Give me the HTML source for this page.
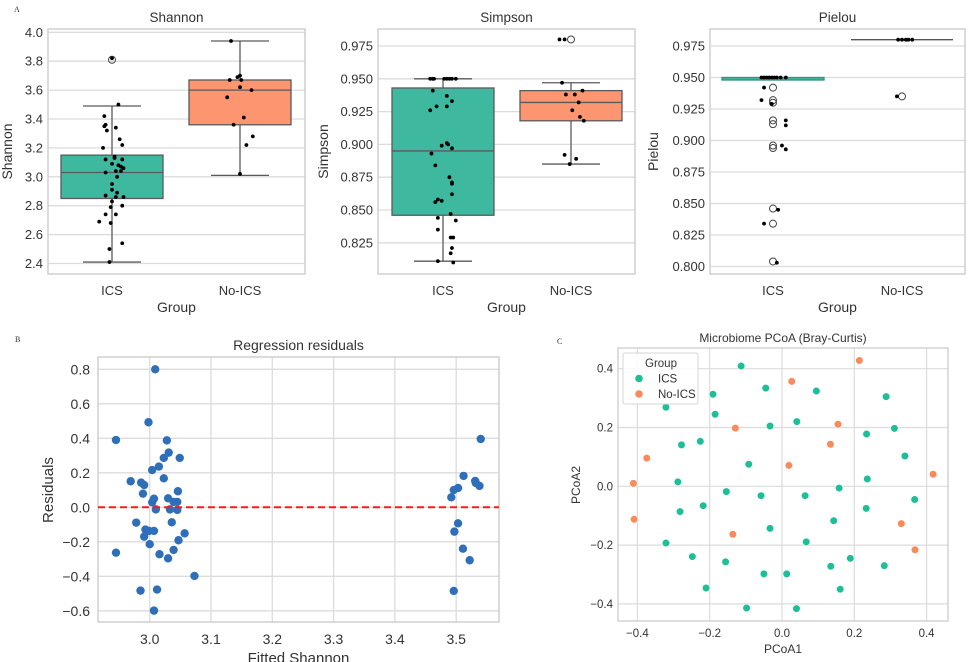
<!DOCTYPE html>
<html><head><meta charset="utf-8"><style>
body{margin:0;background:#fff}
svg{display:block;font-family:"Liberation Sans",sans-serif}
</style></head><body>
<svg id="fig" width="969" height="662" viewBox="0 0 969 662"></svg>
<script>
// ---------- DATA ----------
const groups = ["ICS","No-ICS"];
const shannonICS = [[2.41,-0.02],[2.50,-0.02],[2.54,0.08],[2.69,-0.1],[2.68,-0.01],[2.74,0.03],[2.74,-0.05],[2.80,0.08],[2.79,-0.01],[2.83,0],[2.87,-0.05],[2.86,0.03],[2.86,0.09],[2.89,0.04],[2.91,0],[2.95,0],[3.00,0.04],[3.03,-0.05],[3.04,0.03],[3.04,0.07],[3.09,0],[3.08,0.05],[3.07,0.07],[3.06,0.09],[3.12,-0.05],[3.14,0.02],[3.13,0.02],[3.12,0.08],[3.20,-0.07],[3.22,0.08],[3.26,0.06],[3.32,-0.04],[3.34,0.03],[3.35,-0.06],[3.36,-0.05],[3.42,-0.06],[3.50,0.05],[3.82,0]];
const shannonNo = [[3.94,-0.07],[3.02,0],[3.67,-0.08],[3.69,-0.02],[3.70,0],[3.67,0.01],[3.62,0],[3.60,0.09],[3.55,-0.1],[3.41,0.03],[3.36,-0.05],[3.28,0.1],[3.22,0.05]];
const shannonBox = [{q1:2.85,med:3.03,q3:3.15,lo:2.41,hi:3.49,out:[3.81]},{q1:3.36,med:3.60,q3:3.67,lo:3.01,hi:3.94,out:[]}];
const shannonTicks = [2.4,2.6,2.8,3.0,3.2,3.4,3.6,3.8,4.0];
const simpsonICS = [[0.811,-0.04],[0.810,0.08],[0.817,0.06],[0.821,0.07],[0.829,0.06],[0.829,0.08],[0.835,-0.04],[0.844,-0.04],[0.842,0.1],[0.847,0.06],[0.856,-0.06],[0.858,-0.04],[0.857,-0.01],[0.862,0.07],[0.871,0.07],[0.870,0.07],[0.875,0.05],[0.884,-0.06],[0.893,-0.09],[0.897,0.07],[0.899,-0.01],[0.901,0.03],[0.900,0.04],[0.926,-0.1],[0.929,-0.05],[0.929,0.03],[0.933,0.07],[0.937,0.03],[0.941,-0.08],[0.950,-0.1],[0.950,-0.08],[0.950,-0.07],[0.950,0.01],[0.950,0.03],[0.950,0.05],[0.950,0.07],[0.950,0.1]];
const simpsonNo = [[0.980,-0.09],[0.980,-0.05],[0.947,-0.07],[0.938,-0.04],[0.938,0.03],[0.941,0.09],[0.932,0.06],[0.926,0.01],[0.921,0.07],[0.918,0.1],[0.892,-0.05],[0.889,0.04],[0.885,-0.01]];
const simpsonBox = [{q1:0.846,med:0.895,q3:0.943,lo:0.811,hi:0.950,out:[]},{q1:0.918,med:0.932,q3:0.941,lo:0.885,hi:0.947,out:[0.980]}];
const simpsonTicks = [0.825,0.850,0.875,0.900,0.925,0.950,0.975];
const pielouICS = [[0.950,-0.09],[0.950,-0.07],[0.950,-0.05],[0.950,-0.03],[0.950,-0.01],[0.950,0.01],[0.950,0.03],[0.950,0.06],[0.950,0.1],[0.942,-0.07],[0.932,-0.09],[0.929,-0.01],[0.916,0.1],[0.912,0.1],[0.896,0.07],[0.893,0.1],[0.845,0.04],[0.834,-0.07],[0.803,0.03]];
const pielouNo = [[0.980,-0.03],[0.980,0],[0.980,0.03],[0.980,0.05],[0.980,0.08],[0.935,-0.04]];
const pielouBox = [{q1:0.948,med:0.949,q3:0.950,lo:0.948,hi:0.950,out:[0.942,0.932,0.930,0.916,0.913,0.896,0.894,0.846,0.834,0.804]},{q1:0.980,med:0.980,q3:0.980,lo:0.980,hi:0.980,out:[0.935]}];
const pielouTicks = [0.800,0.825,0.850,0.875,0.900,0.925,0.950,0.975];
const residFitted = [3.009,2.998,2.945,3.028,3.031,3.049,3.023,3.015,3.004,3.023,2.969,2.986,2.991,2.989,3.046,3.007,3.030,3.004,3.039,3.045,3.010,3.033,3.045,2.978,3.036,2.993,2.999,3.007,3.057,2.991,3.047,2.945,3.000,3.016,3.039,3.030,3.073,2.985,3.012,3.007,3.540,3.512,3.531,3.532,3.538,3.503,3.496,3.492,3.503,3.497,3.511,3.522,3.496];
const residValues = [0.80,0.493,0.39,0.388,0.317,0.286,0.286,0.236,0.216,0.168,0.151,0.143,0.129,0.079,0.093,0.05,0.052,0.029,0.031,0.031,-0.012,-0.012,-0.015,-0.089,-0.087,-0.129,-0.137,-0.137,-0.151,-0.170,-0.191,-0.263,-0.214,-0.272,-0.247,-0.296,-0.398,-0.483,-0.477,-0.599,0.396,0.182,0.153,0.141,0.124,0.112,0.100,0.058,-0.093,-0.141,-0.240,-0.307,-0.485];
const residXTicks = [3.0,3.1,3.2,3.3,3.4,3.5];
const residYTicks = [-0.6,-0.4,-0.2,0.0,0.2,0.4,0.6,0.8];
const pcoaICS1 = [-0.113,-0.045,-0.191,0.095,0.288,-0.321,-0.185,-0.033,0.041,0.311,0.234,-0.278,-0.226,0.340,-0.092,0.236,-0.288,-0.154,-0.058,0.064,0.158,0.367,-0.282,-0.218,0.233,0.143,-0.033,-0.321,0.067,-0.248,-0.156,0.189,-0.050,0.013,0.135,0.283,-0.210,0.161,-0.098,0.040];
const pcoaICS2 = [0.409,0.334,0.313,0.324,0.305,0.269,0.245,0.205,0.220,0.197,0.178,0.141,0.153,0.103,0.075,0.025,0.015,-0.018,-0.032,-0.032,-0.006,-0.045,-0.086,-0.066,-0.075,-0.117,-0.143,-0.193,-0.189,-0.239,-0.257,-0.245,-0.298,-0.298,-0.272,-0.270,-0.346,-0.350,-0.414,-0.416];
const pcoaNo1 = [0.214,0.027,-0.129,0.155,0.134,-0.374,0.019,0.418,-0.411,-0.409,-0.136,0.330,0.368];
const pcoaNo2 = [0.428,0.357,0.198,0.211,0.143,0.096,0.071,0.041,0.010,-0.112,-0.163,-0.127,-0.216];
const pcoaTicks = [-0.4,-0.2,0.0,0.2,0.4];

// ---------- HELPERS ----------
const NS="http://www.w3.org/2000/svg";
const svg=document.getElementById('fig');
function mk(tag,at,parent){const e=document.createElementNS(NS,tag);for(const k in at)e.setAttribute(k,at[k]);(parent||svg).appendChild(e);return e;}
function txt(s,at,parent){const e=mk('text',at,parent);e.textContent=s;return e;}
const GRID="#dcdcdc", FRAME="#cfcfcf", TXT="#333";

function boxPanel(name,fx0,fx1,fy0,fy1,yRef,yRefPx,step,stepPx,ticks,dec,box,ptsA,ptsB,cx,ytitleX,title){
  const g=mk('g',{});
  
  
  const Y=v=>yRefPx+(yRef-v)/step*stepPx;
  const catW=128;
  const X=(i,j)=>cx[i]+j*catW;
  ticks.forEach(t=>{
    const l=mk('line',{x1:fx0,x2:fx1,y1:Y(t),y2:Y(t),stroke:GRID,'stroke-width':1.3},g);
    
    
    const tl=txt(t.toFixed(dec),{x:fx0-5,y:Y(t)+4.5,'text-anchor':'end','font-size':13,fill:TXT},g);
    
    
  });
  const fr=mk('rect',{x:fx0,y:fy0,width:fx1-fx0,height:fy1-fy0,fill:'none',stroke:FRAME,'stroke-width':1.5},g);
  
  
  const fills=['#3fb8a0','#fc9570'];
  box.forEach((b,i)=>{
    const c=cx[i];
    const thin=(Y(b.q1)-Y(b.q3))<4;
    const ec=thin&&i===0?'#3a8f7d':'#5a5a5a';
    const w1=mk('line',{x1:c,x2:c,y1:Y(b.hi),y2:Y(b.lo),stroke:'#5a5a5a','stroke-width':1.3},g);
    
    
    if(!thin){[b.lo,b.hi].forEach(v=>{
      const cp=mk('line',{x1:c-29,x2:c+29,y1:Y(v),y2:Y(v),stroke:'#5a5a5a','stroke-width':1.3},g);
      
      
    });}
    const h=Math.max(Y(b.q1)-Y(b.q3),0);
    const r=mk('rect',{x:c-51,y:Y(b.q3),width:102,height:h,fill:fills[i],stroke:ec,'stroke-width':1.3},g);
    
    
    if(!thin){
      const m=mk('line',{x1:c-51,x2:c+51,y1:Y(b.med),y2:Y(b.med),stroke:'#5a5a5a','stroke-width':1.3},g);
      
      
    } else if(i===1){
      const m=mk('line',{x1:c-51,x2:c+51,y1:Y(b.med),y2:Y(b.med),stroke:'#555','stroke-width':1.3},g);
      
      
    }
    b.out.forEach(v=>{
      const o=mk('circle',{cx:c,cy:Y(v),r:3.5,fill:'none',stroke:'#444','stroke-width':1},g);
      
      
    });
  });
  [ptsA,ptsB].forEach((pts,i)=>pts.forEach(p=>{
    const d=mk('circle',{cx:X(i,p[1]),cy:Y(p[0]),r:1.9,fill:'#000'},g);
    
    
  }));
  groups.forEach((gname,i)=>{
    const xl=txt(gname,{x:cx[i],y:295,'text-anchor':'middle','font-size':13,fill:TXT},g);
    
    
  });
  const xt=txt('Group',{x:(fx0+fx1)/2,y:312,'text-anchor':'middle','font-size':14,fill:TXT},g);
  
  
  const yt=txt(title,{x:ytitleX,y:(fy0+fy1)/2,'text-anchor':'middle','font-size':14,fill:TXT,transform:`rotate(-90 ${ytitleX} ${(fy0+fy1)/2})`},g);
  
  
  const tt=txt(title,{x:(fx0+fx1)/2,y:22,'text-anchor':'middle','font-size':13.5,fill:TXT},g);
  
  
}
boxPanel('shannon',48,305,29,274,4.0,32.3,0.2,28.9,shannonTicks,1,shannonBox,shannonICS,shannonNo,[112,240],12,'Shannon');
boxPanel('simpson',378,635,29,274,0.975,46,0.025,32.8,simpsonTicks,3,simpsonBox,simpsonICS,simpsonNo,[443,571],328,'Simpson');
boxPanel('pielou',710,965,29,274,0.975,46,0.025,31.5,pielouTicks,3,pielouBox,pielouICS,pielouNo,[773,902],658,'Pielou');

(function(){
  const g=mk('g',{});
  
  
  const fx0=98,fx1=499,fy0=357,fy1=622;
  const X=v=>149.7+(v-3.0)/0.1*61.3;
  const Y=v=>369.3+(0.8-v)/0.2*34.5;
  residYTicks.forEach(t=>{
    const l=mk('line',{x1:fx0,x2:fx1,y1:Y(t),y2:Y(t),stroke:GRID,'stroke-width':1.3},g);
    
    
    const s=(t<0?'\u2212':'')+Math.abs(t).toFixed(1);
    const tl=txt(s,{x:fx0-8,y:Y(t)+5,'text-anchor':'end','font-size':14,fill:TXT},g);
    
    
  });
  residXTicks.forEach(t=>{
    const l=mk('line',{x1:X(t),x2:X(t),y1:fy0,y2:fy1,stroke:GRID,'stroke-width':1.3},g);
    
    
    const tl=txt(t.toFixed(1),{x:X(t),y:644,'text-anchor':'middle','font-size':14,fill:TXT},g);
    
    
  });
  const fr=mk('rect',{x:fx0,y:fy0,width:fx1-fx0,height:fy1-fy0,fill:'none',stroke:FRAME,'stroke-width':1.5},g);
  
  
  residFitted.forEach((f,i)=>{
    const c=mk('circle',{cx:X(f),cy:Y(residValues[i]),r:4.2,fill:'#2f6fb9'},g);
    
    
  });
  const z=mk('line',{x1:fx0,x2:fx1,y1:Y(0),y2:Y(0),stroke:'#ff1a1a','stroke-width':2,'stroke-dasharray':'7,4'},g);
  
  
  const tt=txt('Regression residuals',{x:(fx0+fx1)/2,y:350,'text-anchor':'middle','font-size':14,fill:TXT},g);
  
  
  const xt=txt('Fitted Shannon',{x:(fx0+fx1)/2,y:663,'text-anchor':'middle','font-size':15,fill:TXT},g);
  
  
  const yt=txt('Residuals',{x:53,y:490,'text-anchor':'middle','font-size':15,fill:TXT,transform:'rotate(-90 53 490)'},g);
  
  
})();

(function(){
  const g=mk('g',{});
  
  
  const fx0=618,fx1=948,fy0=348,fy1=621;
  const X=v=>782+v/0.2*72.3;
  const Y=v=>486.3-v/0.2*58.8;
  pcoaTicks.forEach(t=>{
    const s=(t<0?'\u2212':'')+Math.abs(t).toFixed(1);
    const l=mk('line',{x1:fx0,x2:fx1,y1:Y(t),y2:Y(t),stroke:GRID,'stroke-width':1.2},g);
    
    
    const tl=txt(s,{x:fx0-5,y:Y(t)+4,'text-anchor':'end','font-size':11.5,fill:TXT},g);
    
    
    const v=mk('line',{x1:X(t),x2:X(t),y1:fy0,y2:fy1,stroke:GRID,'stroke-width':1.2},g);
    
    
    const xl=txt(s,{x:X(t),y:637,'text-anchor':'middle','font-size':11.5,fill:TXT},g);
    
    
  });
  const fr=mk('rect',{x:fx0,y:fy0,width:fx1-fx0,height:fy1-fy0,fill:'none',stroke:FRAME,'stroke-width':1.4},g);
  
  
  pcoaICS1.forEach((v,i)=>{
    const c=mk('circle',{cx:X(v),cy:Y(pcoaICS2[i]),r:3.8,fill:'#1dbf98',stroke:'#fff','stroke-width':0.6},g);
    
    
  });
  pcoaNo1.forEach((v,i)=>{
    const c=mk('circle',{cx:X(v),cy:Y(pcoaNo2[i]),r:3.8,fill:'#fb8a5a',stroke:'#fff','stroke-width':0.6},g);
    
    
  });
  const lg=mk('g',{},g);
  
  
  mk('rect',{x:623,y:353,width:75,height:51,fill:'#fff','fill-opacity':0.85,stroke:'#d6d6d6',rx:2},lg);
  txt('Group',{x:661,y:367,'text-anchor':'middle','font-size':11.5,fill:TXT},lg);
  const c1=mk('circle',{cx:639,cy:378.5,r:3.8,fill:'#1dbf98'},lg);
  
  
  const l1=txt('ICS',{x:658,y:382.5,'font-size':11.5,fill:TXT},lg);
  
  
  const c2=mk('circle',{cx:639,cy:394,r:3.8,fill:'#fb8a5a'},lg);
  
  
  const l2=txt('No-ICS',{x:658,y:398,'font-size':11.5,fill:TXT},lg);
  
  
  const tt=txt('Microbiome PCoA (Bray-Curtis)',{x:783,y:342,'text-anchor':'middle','font-size':12,fill:TXT},g);
  
  
  const xt=txt('PCoA1',{x:783,y:653,'text-anchor':'middle','font-size':12,fill:TXT},g);
  
  
  const yt=txt('PCoA2',{x:580,y:485,'text-anchor':'middle','font-size':12,fill:TXT,transform:'rotate(-90 580 485)'},g);
  
  
})();

const pa=txt('A',{x:14,y:12,'font-size':8,'font-family':'Liberation Serif,serif',fill:'#333'});


const pb=txt('B',{x:15,y:342,'font-size':8,'font-family':'Liberation Serif,serif',fill:'#333'});


const pc=txt('C',{x:557,y:344,'font-size':8,'font-family':'Liberation Serif,serif',fill:'#333'});


</script>
</body></html>
